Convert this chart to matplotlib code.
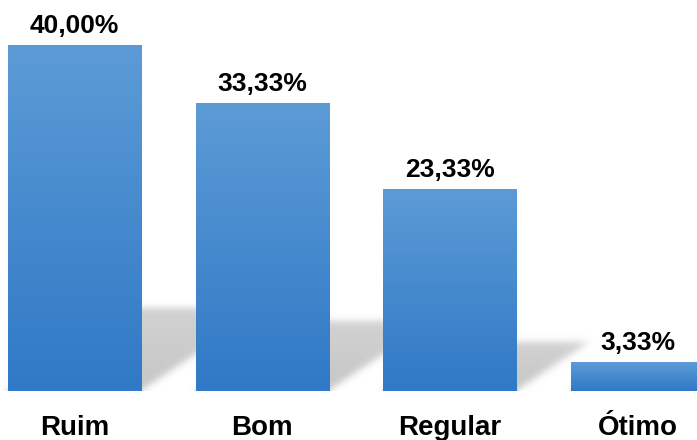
import numpy as np
import matplotlib
matplotlib.use("Agg")
import matplotlib.pyplot as plt
from matplotlib.colors import LinearSegmentedColormap

categorias = ["Ruim", "Bom", "Regular", "Ótimo"]
percentuais = [40.00, 33.33, 23.33, 3.33]
rotulos = ["40,00%", "33,33%", "23,33%", "3,33%"]

plt.rcParams['font.family'] = ['Liberation Sans', 'DejaVu Sans']

fig = plt.figure(figsize=(6.97, 4.40), dpi=100)
ax = fig.add_axes([0, 49 / 440, 1, 391 / 440])

x = np.arange(len(categorias))
largura = 0.709
xmin, xmax = -0.397, 3.316
ymax = 45.2

# sombra projetada atras das barras (decorativa)
nx, ny = 697, 391
gx = np.linspace(xmin, xmax, nx)
gy = np.linspace(0, ymax, ny)
X, Y = np.meshgrid(gx, gy)
sombra = np.zeros_like(X)
for xi, h in zip(x, percentuais):
    sh = 0.24 * h
    dx = 0.0166 * h
    t = Y / sh
    dentro = (Y <= sh) & (X - t * dx >= xi - largura / 2) & (X - t * dx <= xi + largura / 2)
    sombra = np.maximum(sombra, dentro * (1 - 0.2 * np.clip(t, 0, 1)))

sigma = 3.5
r = np.arange(-12, 13)
k = np.exp(-r**2 / (2 * sigma**2))
k /= k.sum()
pad = np.pad(sombra, 12, mode='edge')
pad = np.apply_along_axis(lambda v: np.convolve(v, k, mode='same'), 0, pad)
pad = np.apply_along_axis(lambda v: np.convolve(v, k, mode='same'), 1, pad)
sombra = pad[12:-12, 12:-12]

img = np.zeros((ny, nx, 4))
img[..., :3] = 0.78
img[..., 3] = np.clip(sombra, 0, 1)
ax.imshow(img, extent=(xmin, xmax, 0, ymax), origin='lower', aspect='auto', zorder=1,
          interpolation='bilinear')

# barras com gradiente
cmap = LinearSegmentedColormap.from_list("azul", ["#3079c6", "#5c9bd6"])
grad = np.linspace(0, 1, 256).reshape(-1, 1)
barras = ax.bar(x, percentuais, largura, color='none', edgecolor='none', zorder=2)
for b in barras:
    im = ax.imshow(grad, extent=(b.get_x(), b.get_x() + b.get_width(), 0, b.get_height()),
                   origin='lower', aspect='auto', cmap=cmap, zorder=2)
    im.set_clip_path(b)

for xi, h, txt in zip(x, percentuais, rotulos):
    ax.annotate(txt, (xi, h), xytext=(0, 8.5), textcoords='offset points',
                ha='center', va='baseline', fontsize=19, fontweight='bold', color='black')

ax.set_xlim(xmin, xmax)
ax.set_ylim(0, ymax)
ax.set_xticks(x, categorias, fontsize=20, fontweight='bold', color='black')
ax.tick_params(axis='x', length=0, pad=17)
ax.set_yticks([])
for s in ax.spines.values():
    s.set_visible(False)

fig.savefig("out.png", dpi=100)
